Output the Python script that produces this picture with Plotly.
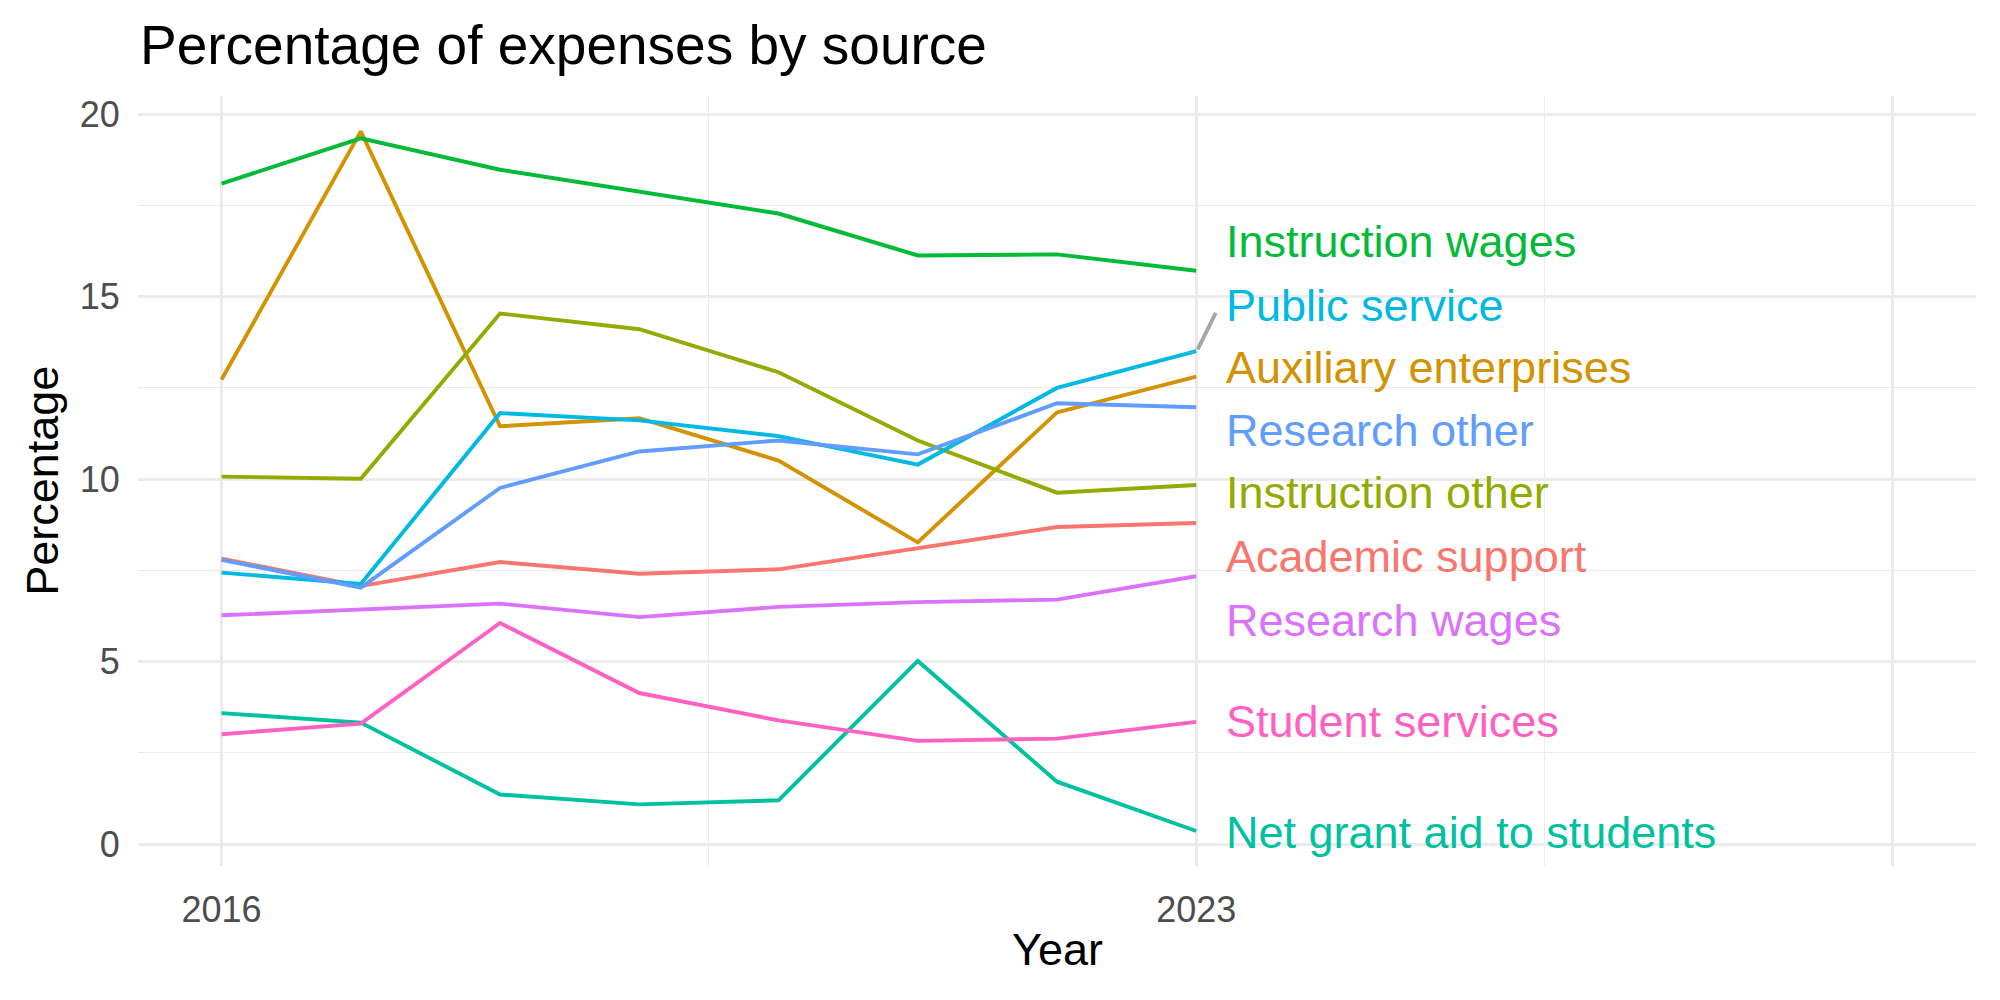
import plotly.graph_objects as go

years = [2016, 2017, 2018, 2019, 2020, 2021, 2022, 2023]

academic_support = [7.82, 7.07, 7.73, 7.41, 7.53, 8.11, 8.69, 8.80]
auxiliary_enterprises = [12.73, 19.53, 11.45, 11.67, 10.51, 8.27, 11.83, 12.81]
instruction_other = [10.07, 10.01, 14.54, 14.11, 12.93, 11.06, 9.63, 9.84]
instruction_wages = [18.10, 19.34, 18.48, 17.87, 17.28, 16.13, 16.16, 15.71]
net_grant_aid = [3.59, 3.33, 1.36, 1.09, 1.20, 5.02, 1.71, 0.36]
public_service = [7.44, 7.13, 11.81, 11.61, 11.18, 10.40, 12.50, 13.51]
research_other = [7.79, 7.03, 9.76, 10.76, 11.06, 10.68, 12.08, 11.97]
research_wages = [6.27, 6.43, 6.59, 6.22, 6.50, 6.63, 6.70, 7.34]
student_services = [3.01, 3.30, 6.06, 4.14, 3.39, 2.83, 2.89, 3.35]

series_names = [
    "Academic support", "Auxiliary enterprises", "Instruction other",
    "Instruction wages", "Net grant aid to students", "Public service",
    "Research other", "Research wages", "Student services",
]
series_values = [
    academic_support, auxiliary_enterprises, instruction_other,
    instruction_wages, net_grant_aid, public_service,
    research_other, research_wages, student_services,
]
colors = ["#F8766D", "#D39200", "#93AA00", "#00BA38", "#00C19F",
          "#00B9E3", "#619CFF", "#DB72FB", "#FF61C3"]
# repelled label positions (y)
label_y = [7.89, 13.05, 9.63, 16.51, 0.31, 14.76, 11.34, 6.14, 3.35]
label_x = 2023.2

x_major = [2016, 2023, 2028]
x_major_text = ["2016", "2023", ""]
x_minor = [2019.5, 2025.5]
y_major = [0, 5, 10, 15, 20]
y_minor = [2.5, 7.5, 12.5, 17.5]

FONT = "Liberation Sans"
fig = go.Figure()

for name, vals, col in zip(series_names, series_values, colors):
    fig.add_trace(go.Scatter(x=years, y=vals, mode="lines", name=name,
                             line=dict(color=col, width=3.9),
                             showlegend=False, hoverinfo="x+y+name"))

# repel segment for Public service
ps_idx = series_names.index("Public service")
fig.add_trace(go.Scatter(
    x=[years[-1] + 0.01, label_x - 0.06],
    y=[public_service[-1] + 0.05, label_y[ps_idx] - 0.2],
    mode="lines", line=dict(color="#A6A6A6", width=3.9),
    showlegend=False, hoverinfo="skip"))

for name, ly, col in zip(series_names, label_y, colors):
    fig.add_annotation(x=label_x, y=ly, text=name, showarrow=False,
                       xanchor="left", yanchor="middle",
                       font=dict(family=FONT, size=45, color=col))

fig.add_annotation(xref="paper", yref="paper", x=0.5, y=-0.108,
                   text="Year", showarrow=False, xanchor="center",
                   yanchor="middle", font=dict(family=FONT, size=45, color="black"))
fig.add_annotation(xref="paper", yref="paper", x=-0.0523, y=0.5,
                   text="Percentage", showarrow=False, textangle=-90,
                   xanchor="center", yanchor="middle",
                   font=dict(family=FONT, size=45, color="black"))

fig.update_layout(
    width=2000, height=1000,
    margin=dict(l=138, r=24, t=96, b=134),
    paper_bgcolor="white", plot_bgcolor="white",
    title=dict(text="Percentage of expenses by source", x=0.07, xanchor="left",
               y=0.955, yanchor="middle",
               font=dict(family=FONT, size=55, color="black")),
    xaxis=dict(range=[2015.4, 2028.6], tickmode="array", tickvals=x_major,
               ticktext=x_major_text, showgrid=True, gridcolor="#EBEBEB",
               gridwidth=2.8, zeroline=False, showline=False,
               ticks="outside", ticklen=12, tickcolor="rgba(0,0,0,0)",
               tickfont=dict(family=FONT, size=36, color="#4D4D4D"),
               minor=dict(tickvals=x_minor, showgrid=True, gridcolor="#EBEBEB",
                          gridwidth=1.4)),
    yaxis=dict(range=[-0.6, 20.5], tickmode="array", tickvals=y_major,
               showgrid=True, gridcolor="#EBEBEB", gridwidth=2.8,
               zeroline=False, showline=False,
               ticks="outside", ticklen=10, tickcolor="rgba(0,0,0,0)",
               tickfont=dict(family=FONT, size=36, color="#4D4D4D"),
               minor=dict(tickvals=y_minor, showgrid=True, gridcolor="#EBEBEB",
                          gridwidth=1.4)),
)

fig.write_html("out.html")
